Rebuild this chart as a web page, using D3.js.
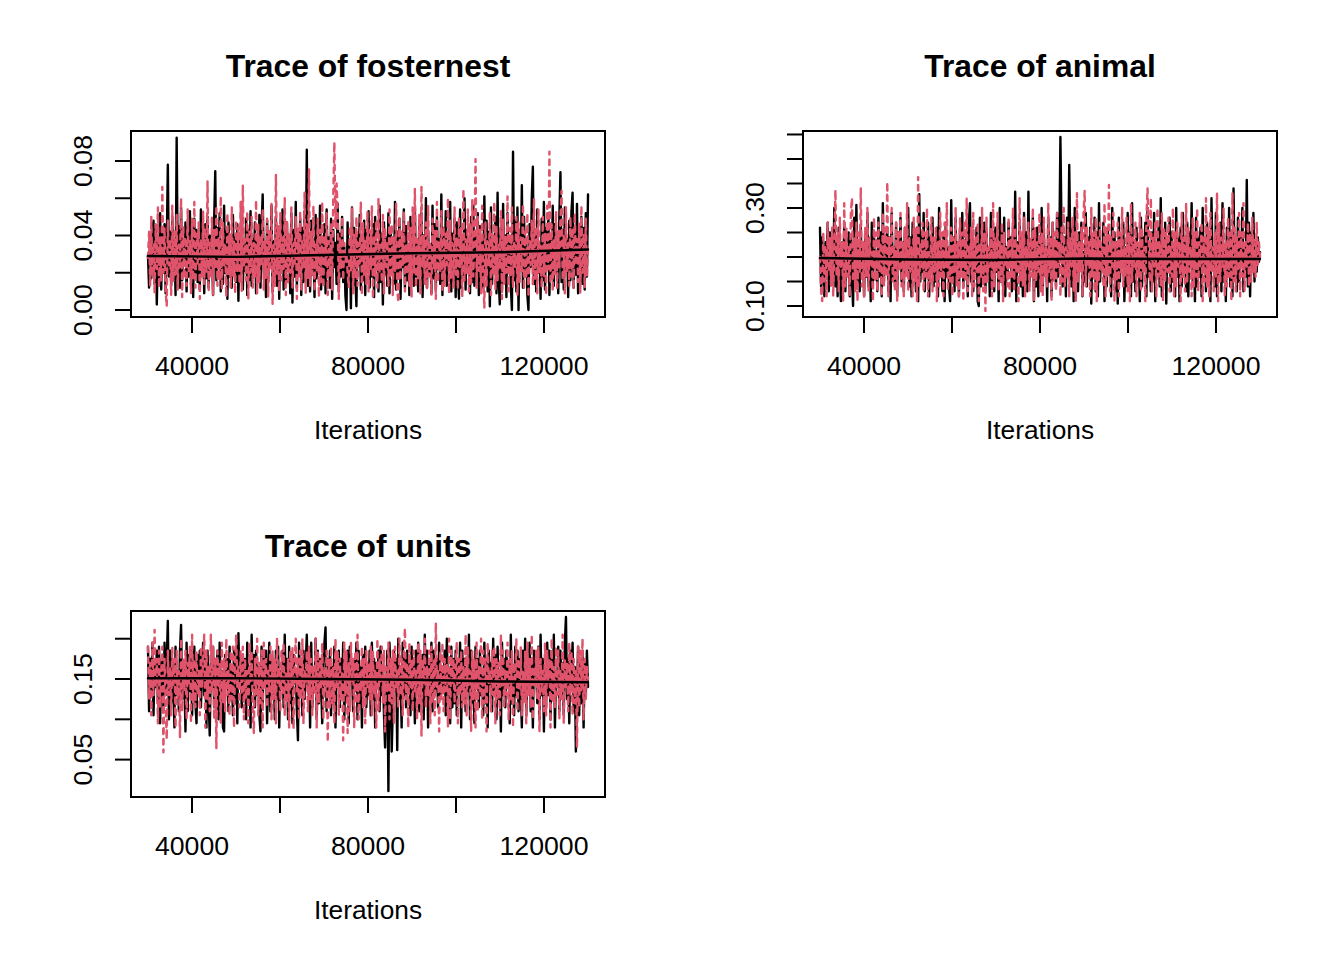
<!DOCTYPE html>
<html><head><meta charset="utf-8">
<script src="https://cdn.jsdelivr.net/npm/d3@7"></script>
<style>html,body{margin:0;padding:0;background:#fff}svg{display:block}text{font-family:"Liberation Sans",Arial,sans-serif;fill:#000}</style>
</head><body><div id="chart"></div>
<script>
const iterStart = 30000, iterEnd = 130000;
const xTicks = [40000, 60000, 80000, 100000, 120000];
const xLabelled = [40000, 80000, 120000];

const titles = ["Trace of fosternest", "Trace of animal", "Trace of units"];
const xTitle = "Iterations";

const fosternestTicks = [0, .02, .04, .06, .08];
const fosternestLabelled = [0, .04, .08];
const animalTicks = [.1, .15, .2, .25, .3, .35, .4, .45];
const animalLabelled = [.1, .3];
const unitsTicks = [.05, .1, .15, .2];
const unitsLabelled = [.05, .15];

const fosternestBlack = [
.029,.012,.04,.017,.036,.048,.014,.043,.003,.038,.016,.052,.011,.041,.02,.046,.009,.034,.078,.018,
.042,.013,.05,.021,.037,.008,.0925,.019,.045,.012,.055,.016,.038,.024,.047,.01,.041,.018,.053,.014,
.036,.007,.049,.02,.043,.015,.039,.011,.054,.022,.035,.009,.046,.017,.05,.012,.04,.019,.033,.008,
.048,.0745,.016,.044,.023,.052,.01,.037,.014,.056,.02,.042,.006,.047,.018,.035,.012,.051,.024,.039,
.015,.046,.005,.041,.019,.055,.011,.036,.021,.049,.008,.043,.016,.053,.013,.038,.025,.047,.009,.04,
.017,.051,.012,.044,.062,.02,.034,.007,.048,.015,.042,.023,.056,.01,.037,.018,.05,.013,.045,.006,
.039,.021,.054,.011,.041,.016,.047,.024,.036,.009,.052,.004,.043,.018,.058,.012,.038,.02,.049,.008,
.044,.015,.053,.022,.086,.013,.04,.01,.048,.019,.035,.007,.051,.017,.042,.024,.056,.011,.037,.016,
.046,.009,.054,.02,.039,.012,.049,.006,.043,.023,.036,.014,.057,.01,.041,.018,.05,.015,.034,.008,
.000,.047,.021,.038,.001,.055,.013,.044,.017,.002,.04,.024,.051,.011,.036,.016,.048,.008,.043,.02,
.053,.012,.037,.018,.046,.007,.05,.022,.035,.01,.056,.015,.041,.003,.047,.019,.039,.013,.052,.009,
.044,.021,.036,.014,.058,.011,.042,.017,.049,.006,.038,.023,.054,.012,.045,.016,.034,.008,.05,.02,
.041,.013,.055,.018,.037,.01,.047,.024,.052,.007,.04,.015,.06,.012,.043,.02,.035,.009,.056,.017,
.046,.011,.05,.022,.038,.014,.062,.008,.044,.019,.053,.013,.036,.025,.058,.01,.041,.016,.049,.007,
.047,.02,.006,.054,.012,.039,.018,.06,.011,.043,.023,.036,.009,.05,.015,.056,.013,.04,.021,.052,
.008,.045,.017,.037,.012,.061,.02,.048,.01,.042,.002,.055,.014,.038,.024,.05,.009,.063,.016,.003,
.044,.011,.057,.019,.04,.007,.052,.022,.036,.013,.000,.085,.016,.048,.01,.055,.000,.043,.021,.067,
.012,.05,.018,.037,.008,.000,.046,.023,.06,.077,.014,.041,.01,.054,.02,.035,.006,.049,.016,.058,
.011,.044,.024,.052,.008,.039,.017,.056,.013,.046,.02,.036,.009,.05,.074,.015,.043,.011,.055,.022,
.038,.007,.048,.016,.053,.063,.012,.041,.019,.057,.009,.036,.021,.05,.014,.044,.011,.052,.018,.062];
const fosternestRed = [
.028,.042,.013,.05,.018,.036,.009,.046,.022,.055,.012,.039,.016,.066,.02,.044,.01,.002,.048,.024,
.038,.008,.056,.015,.042,.019,.051,.011,.035,.023,.06,.007,.045,.017,.039,.013,.054,.021,.037,.009,
.049,.016,.058,.012,.041,.025,.047,.006,.038,.018,.053,.014,.044,.02,.069,.01,.036,.017,.05,.008,
.043,.022,.056,.013,.039,.016,.061,.011,.047,.024,.035,.007,.052,.019,.041,.012,.055,.018,.037,.009,
.048,.021,.044,.014,.058,.01,.067,.023,.038,.016,.053,.006,.042,.02,.05,.012,.036,.018,.059,.009,
.046,.015,.04,.024,.054,.011,.037,.017,.049,.007,.043,.021,.057,.003,.035,.013,.0725,.019,.045,.01,
.052,.016,.039,.022,.06,.008,.047,.014,.041,.02,.055,.012,.036,.025,.05,.006,.044,.018,.053,.011,
.038,.023,.063,.009,.046,.017,.076,.013,.042,.019,.056,.01,.035,.021,.049,.007,.043,.015,.058,.012,
.04,.024,.052,.008,.037,.018,.047,.011,.061,.09,.044,.068,.054,.006,.039,.022,.05,.016,.036,.026,
.03,.02,.012,.045,.021,.055,.009,.041,.017,.05,.013,.036,.025,.058,.008,.047,.019,.038,.014,.053,
.01,.043,.022,.056,.006,.04,.018,.048,.012,.06,.02,.035,.015,.051,.009,.044,.023,.037,.013,.054,
.017,.046,.008,.039,.021,.057,.011,.004,.05,.016,.042,.024,.053,.01,.036,.019,.048,.013,.044,.007,
.055,.02,.065,.012,.038,.017,.051,.009,.066,.023,.04,.014,.047,.011,.056,.018,.035,.008,.049,.022,
.043,.006,.058,.015,.037,.021,.053,.01,.045,.013,.041,.024,.06,.009,.048,.017,.036,.012,.055,.019,
.039,.011,.05,.023,.044,.007,.065,.016,.038,.02,.054,.01,.046,.014,.059,.018,.036,.081,.012,.05,
.021,.043,.009,.056,.017,.001,.047,.013,.037,.024,.052,.008,.041,.019,.058,.011,.045,.016,.035,.022,
.053,.006,.049,.014,.04,.02,.061,.01,.044,.018,.055,.012,.036,.023,.05,.008,.047,.015,.039,.021,
.057,.011,.042,.017,.052,.007,.037,.024,.048,.013,.06,.016,.045,.009,.054,.02,.035,.012,.05,.018,
.041,.008,.056,.022,.085,.014,.046,.01,.038,.019,.053,.012,.043,.023,.049,.064,.016,.04,.009,.055,
.021,.036,.013,.05,.018,.044,.011,.052,.024,.038,.015,.047,.009,.056,.02,.041,.012,.049,.018,.034];
const fosternestSmoothBlack = [.029,.0285,.0295,.0305,.031,.0325];
const fosternestSmoothRed = [.0285,.029,.0295,.03,.0305,.031];

const animalBlack = [
.26,.14,.24,.17,.12,.23,.16,.27,.13,.25,.15,.22,.18,.3,.14,.24,.12,.26,.17,.11,
.23,.15,.27,.13,.21,.17,.25,.12,.24,.16,.1,.28,.14,.306,.15,.23,.13,.26,.17,.22,
.12,.25,.16,.29,.14,.23,.11,.27,.15,.24,.18,.21,.13,.28,.16,.25,.12,.31,.15,.23,
.17,.26,.13,.24,.11,.29,.16,.22,.14,.27,.12,.25,.18,.28,.15,.23,.13,.26,.17,.21,
.3,.14,.24,.12,.27,.16,.22,.13,.26,.11,.328,.15,.25,.17,.29,.13,.23,.16,.27,.12,
.24,.18,.28,.14,.21,.15,.26,.12,.3,.17,.23,.13,.25,.11,.27,.16,.22,.14,.11,.316,
.16,.24,.13,.28,.15,.23,.12,.26,.18,.29,.14,.22,.16,.25,.12,.27,.31,.15,.24,.13,
.22,.17,.26,.11,.1,.28,.14,.23,.16,.27,.13,.25,.18,.21,.12,.29,.15,.24,.13,.26,
.17,.23,.11,.3,.15,.25,.14,.28,.12,.22,.16,.27,.18,.24,.13,.26,.15,.333,.11,.23,
.17,.27,.14,.21,.12,.29,.16,.25,.13,.333,.15,.22,.18,.28,.11,.24,.14,.26,.12,.23,
.16,.3,.13,.25,.17,.22,.11,.28,.15,.24,.12,.27,.18,.23,.14,.29,.16,.21,.445,.26,
.14,.15,.24,.12,.28,.17,.388,.22,.14,.26,.11,.3,.16,.23,.13,.25,.18,.27,.12,.21,
.15,.29,.14,.24,.17,.26,.105,.23,.16,.28,.13,.25,.12,.31,.15,.22,.18,.27,.11,.24,
.14,.26,.17,.21,.12,.3,.16,.25,.13,.23,.105,.28,.15,.24,.18,.27,.11,.22,.14,.29,
.16,.25,.12,.31,.15,.23,.13,.26,.17,.22,.11,.28,.14,.24,.18,.27,.12,.3,.16,.21,
.13,.25,.15,.29,.11,.23,.17,.26,.14,.32,.12,.22,.16,.27,.105,.24,.18,.28,.13,.25,
.15,.21,.12,.3,.16,.24,.11,.26,.14,.29,.17,.23,.13,.27,.12,.25,.18,.31,.15,.22,
.11,.28,.14,.24,.16,.26,.12,.3,.17,.23,.13,.27,.15,.25,.11,.32,.18,.22,.14,.29,
.12,.24,.16,.27,.13,.31,.15,.21,.11,.26,.17,.3,.14,.25,.12,.34,.16,.23,.13,.28,
.15,.24,.18,.3,.13,.22,.16,.357,.14,.27,.12,.25,.17,.29,.15,.23,.17,.24,.19,.21];
const animalRed = [
.2,.13,.11,.25,.15,.22,.12,.27,.17,.24,.14,.26,.12,.23,.337,.16,.25,.13,.28,.18,
.23,.11,.31,.14,.26,.16,.22,.12,.29,.32,.15,.24,.13,.27,.11,.25,.17,.341,.14,.23,
.12,.26,.16,.3,.13,.24,.18,.21,.11,.28,.15,.25,.13,.27,.17,.23,.12,.29,.14,.26,
.16,.353,.12,.24,.18,.3,.15,.22,.13,.27,.11,.25,.17,.29,.14,.23,.12,.26,.16,.31,
.13,.24,.17,.22,.12,.28,.15,.26,.11,.363,.14,.23,.18,.27,.13,.25,.16,.3,.12,.21,
.15,.28,.13,.24,.17,.26,.11,.23,.14,.29,.16,.25,.12,.27,.18,.31,.13,.22,.15,.26,
.12,.24,.17,.3,.14,.23,.12,.28,.16,.25,.11,.27,.15,.32,.13,.22,.18,.26,.12,.29,
.14,.24,.17,.27,.11,.23,.16,.3,.13,.25,.09,.28,.15,.22,.18,.26,.12,.31,.14,.24,
.17,.29,.13,.23,.15,.27,.11,.25,.18,.22,.14,.28,.12,.24,.16,.3,.13,.26,.17,.23,
.11,.32,.15,.25,.14,.28,.12,.22,.18,.27,.13,.24,.16,.3,.11,.26,.15,.23,.17,.29,
.13,.25,.12,.28,.16,.22,.14,.31,.17,.24,.11,.27,.15,.25,.13,.29,.18,.23,.12,.26,
.15,.3,.14,.22,.16,.27,.12,.24,.18,.28,.13,.25,.11,.33,.15,.23,.17,.26,.12,.29,
.335,.14,.26,.18,.23,.12,.3,.16,.25,.13,.28,.11,.24,.15,.27,.17,.22,.14,.31,.12,
.26,.16,.347,.13,.24,.18,.29,.11,.23,.15,.27,.12,.25,.17,.3,.14,.22,.16,.28,.13,
.25,.11,.31,.15,.24,.18,.27,.12,.23,.16,.29,.13,.26,.17,.22,.11,.28,.34,.25,.15,
.32,.13,.24,.18,.27,.12,.3,.16,.23,.14,.29,.11,.26,.15,.25,.17,.28,.13,.22,.16,
.3,.12,.25,.14,.27,.18,.23,.11,.29,.16,.24,.13,.31,.15,.26,.17,.22,.12,.28,.14,
.25,.16,.3,.13,.23,.18,.27,.11,.24,.15,.32,.14,.26,.12,.29,.17,.22,.13,.25,.16,
.33,.11,.27,.15,.24,.18,.3,.12,.23,.14,.28,.16,.25,.11,.33,.15,.26,.13,.24,.17,
.29,.12,.25,.16,.31,.13,.23,.18,.27,.14,.25,.15,.28,.17,.24,.16,.27,.18,.23,.2];
const animalSmoothBlack = [.198,.195,.194,.197,.196,.196];
const animalSmoothRed = [.197,.195,.195,.196,.196,.197];

const unitsBlack = [
.19,.11,.175,.13,.195,.105,.17,.14,.185,.12,.19,.095,.16,.18,.115,.195,.13,.17,.222,.1,
.185,.12,.175,.14,.09,.19,.13,.16,.11,.185,.217,.125,.17,.15,.085,.195,.11,.18,.135,.185,
.105,.165,.19,.12,.095,.18,.145,.185,.115,.16,.195,.13,.175,.09,.185,.125,.08,.17,.14,.19,
.115,.175,.135,.185,.1,.195,.125,.16,.09,.085,.18,.145,.175,.11,.19,.13,.165,.105,.185,.12,
.19,.095,.207,.14,.17,.115,.18,.13,.175,.1,.195,.125,.16,.09,.205,.14,.18,.115,.185,.13,
.165,.105,.085,.19,.12,.175,.145,.185,.095,.16,.195,.11,.175,.135,.165,.1,.185,.125,.19,.09,
.16,.14,.185,.115,.205,.13,.175,.1,.19,.12,.17,.095,.18,.145,.16,.11,.074,.195,.13,.175,
.105,.185,.125,.165,.205,.14,.175,.09,.195,.115,.16,.135,.2,.1,.185,.12,.175,.145,.095,.17,
.195,.214,.11,.175,.135,.185,.105,.165,.12,.19,.09,.16,.14,.185,.115,.175,.13,.195,.1,.17,
.125,.185,.095,.19,.145,.16,.11,.175,.135,.195,.1,.185,.12,.165,.09,.18,.14,.19,.115,.16,
.13,.185,.105,.195,.125,.175,.09,.17,.14,.185,.11,.19,.13,.16,.105,.065,.125,.185,.011,.195,
.145,.06,.115,.185,.135,.175,.062,.2,.125,.16,.09,.195,.13,.175,.115,.185,.14,.17,.105,.19,
.12,.175,.095,.185,.135,.195,.11,.16,.14,.18,.1,.205,.125,.185,.09,.17,.13,.195,.11,.185,
.13,.15,.175,.115,.195,.125,.145,.165,.14,.185,.105,.2,.13,.16,.095,.19,.115,.175,.12,.185,
.105,.17,.14,.195,.09,.185,.125,.175,.11,.16,.135,.205,.1,.185,.12,.165,.095,.19,.145,.175,
.115,.185,.13,.16,.105,.195,.12,.175,.09,.185,.14,.17,.11,.2,.135,.18,.1,.19,.125,.16,
.085,.195,.13,.175,.115,.185,.145,.165,.095,.205,.12,.16,.105,.19,.13,.185,.11,.175,.14,.09,
.185,.125,.2,.105,.17,.135,.195,.11,.175,.09,.185,.145,.16,.12,.19,.1,.205,.13,.175,.085,
.165,.115,.195,.13,.185,.1,.175,.125,.205,.09,.16,.14,.19,.11,.185,.135,.17,.105,.195,.227,
.125,.175,.095,.185,.14,.195,.11,.165,.06,.13,.19,.105,.175,.12,.185,.09,.17,.13,.185,.14];
const unitsRed = [
.19,.125,.17,.105,.195,.13,.211,.14,.175,.095,.185,.115,.16,.19,.059,.175,.12,.075,.185,.13,
.165,.105,.19,.14,.175,.09,.185,.125,.16,.078,.2,.11,.175,.135,.185,.1,.17,.145,.19,.095,
.205,.12,.175,.115,.185,.13,.16,.105,.19,.14,.175,.205,.09,.185,.125,.165,.11,.205,.135,.19,
.1,.175,.064,.185,.14,.17,.095,.195,.12,.175,.11,.2,.13,.16,.105,.185,.125,.19,.09,.175,
.205,.14,.165,.115,.185,.13,.19,.1,.175,.125,.16,.095,.195,.145,.185,.11,.083,.175,.13,.2,
.105,.17,.12,.185,.09,.195,.14,.175,.115,.16,.135,.19,.1,.185,.125,.175,.095,.2,.145,.165,
.11,.185,.13,.195,.105,.16,.12,.175,.09,.185,.14,.19,.088,.17,.2,.135,.175,.1,.185,.125,
.2,.095,.16,.145,.185,.11,.19,.125,.175,.105,.165,.13,.2,.09,.185,.12,.175,.14,.195,.1,
.16,.135,.185,.072,.175,.115,.19,.12,.165,.095,.2,.14,.185,.105,.175,.125,.16,.074,.195,.13,
.185,.083,.17,.11,.195,.145,.175,.09,.185,.12,.205,.1,.16,.135,.19,.115,.175,.095,.185,.14,
.17,.125,.19,.105,.185,.13,.16,.09,.2,.11,.175,.145,.19,.12,.185,.085,.165,.135,.195,.1,
.175,.12,.185,.095,.19,.14,.16,.115,.2,.13,.175,.105,.185,.213,.125,.17,.09,.195,.14,.175,
.11,.185,.135,.16,.1,.195,.12,.185,.08,.175,.145,.2,.115,.165,.13,.185,.095,.19,.12,.175,
.105,.22,.14,.16,.085,.185,.125,.195,.11,.175,.135,.17,.09,.2,.1,.185,.145,.175,.12,.16,
.195,.095,.175,.13,.185,.115,.165,.12,.205,.105,.19,.14,.16,.085,.185,.125,.175,.09,.195,.11,
.165,.135,.2,.1,.185,.12,.175,.085,.195,.145,.16,.11,.185,.13,.19,.095,.175,.125,.17,.105,
.205,.14,.185,.115,.16,.13,.195,.1,.175,.125,.185,.09,.17,.145,.2,.11,.175,.135,.19,.105,
.16,.12,.185,.095,.195,.13,.175,.115,.205,.1,.165,.14,.185,.125,.19,.085,.175,.135,.16,.11,
.195,.105,.185,.145,.175,.09,.2,.12,.165,.115,.19,.13,.185,.1,.16,.125,.205,.095,.175,.14,
.17,.11,.195,.13,.185,.105,.175,.12,.16,.065,.19,.115,.185,.135,.2,.1,.175,.125,.165,.15];
const unitsSmoothBlack = [.151,.151,.150,.149,.147,.146];
const unitsSmoothRed = [.151,.150,.150,.148,.147,.147];

const RED = "#DF536B";
const W = 1344, H = 960;
const svg = d3.select("#chart").append("svg").attr("width", W).attr("height", H);

const panels = [
  {title: titles[0], left: 131, top: 131, yDomain: [-.00376, .0961], ticks: fosternestTicks, labelled: fosternestLabelled,
   black: fosternestBlack, red: fosternestRed, sb: fosternestSmoothBlack, sr: fosternestSmoothRed},
  {title: titles[1], left: 803, top: 131, yDomain: [.0776, .4571], ticks: animalTicks, labelled: animalLabelled,
   black: animalBlack, red: animalRed, sb: animalSmoothBlack, sr: animalSmoothRed},
  {title: titles[2], left: 131, top: 611, yDomain: [.0036, .2344], ticks: unitsTicks, labelled: unitsLabelled,
   black: unitsBlack, red: unitsRed, sb: unitsSmoothBlack, sr: unitsSmoothRed}
];

const pw = 474, ph = 186;
panels.forEach(p => {
  const g = svg.append("g").attr("transform", `translate(${p.left},${p.top})`);
  const x = d3.scaleLinear().domain([26140, 133860]).range([0, pw]);
  const y = d3.scaleLinear().domain(p.yDomain).range([ph, 0]);
  const iter = (arr, i) => iterStart + i * (iterEnd - iterStart) / (arr.length - 1);
  const line = arr => d3.line().x((d, i) => x(iter(arr, i))).y(d => y(d))(arr);

  const drawTrace = (arr, colour, dash, width) => g.append("path").attr("d", line(arr))
    .attr("fill", "none").attr("stroke", colour).attr("stroke-width", width)
    .attr("stroke-linecap", "round").attr("stroke-linejoin", "round")
    .attr("stroke-dasharray", dash);
  drawTrace(p.black, "#000", null, 2.4);
  drawTrace(p.red, RED, "5.3 5.3", 2.4);
  drawTrace(p.sr, RED, "5.3 5.3", 2.4);
  drawTrace(p.sb, "#000", null, 2.4);

  const xAxis = d3.axisBottom(x).tickValues(xTicks).tickSizeInner(16).tickSizeOuter(0).offset(0)
    .tickFormat(d => xLabelled.includes(d) ? String(d) : "");
  const ax = g.append("g").attr("transform", `translate(0,${ph})`).call(xAxis);
  const yAxis = d3.axisLeft(y).tickValues(p.ticks).tickSizeInner(16).tickSizeOuter(0).offset(0)
    .tickFormat(d => p.labelled.includes(d) ? d.toFixed(2) : "");
  const ay = g.append("g").call(yAxis);
  [ax, ay].forEach(a => {
    a.selectAll("path,line").attr("stroke", "#000").attr("stroke-width", 2);
    a.selectAll("text").attr("font-size", 26.67).attr("font-family", '"Liberation Sans"').attr("fill", "#000");
  });
  ax.selectAll("text").attr("dy", null).attr("y", 0).attr("text-anchor", "middle")
    .attr("transform", "translate(0,58)");
  ay.selectAll("text").attr("dy", null).attr("x", 0).attr("y", 0).attr("text-anchor", "middle")
    .attr("transform", "translate(-38.7,0) rotate(-90)");

  g.append("rect").attr("width", pw).attr("height", ph).attr("fill", "none").attr("stroke", "#000").attr("stroke-width", 2);

  g.append("text").attr("x", pw / 2).attr("y", -54).attr("text-anchor", "middle")
    .attr("font-size", 31.8).attr("font-weight", "bold").text(p.title);
  g.append("text").attr("x", pw / 2).attr("y", 307.6).attr("text-anchor", "middle")
    .attr("font-size", 26.3).text(xTitle);
});
</script></body></html>
